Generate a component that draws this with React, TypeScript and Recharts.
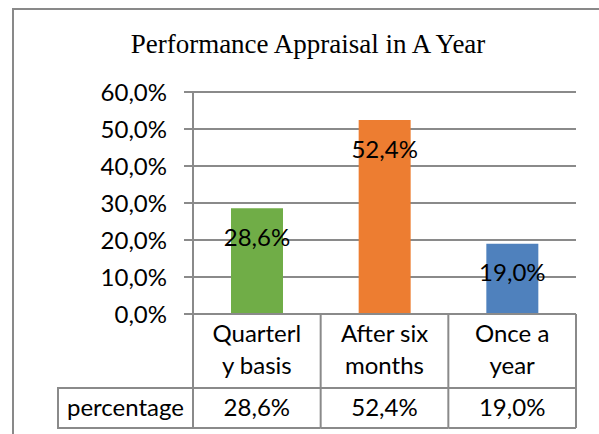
import React from 'react';
import { BarChart, Bar, XAxis, YAxis, CartesianGrid, Cell, LabelList } from 'recharts';

// values
const categories = ['Quarterly basis', 'After six months', 'Once a year'];
const categoryLines = [['Quarterl', 'y basis'], ['After six', 'months'], ['Once a', 'year']];
const percentages = [0.286, 0.524, 0.19];
const yTicks = [0, 0.1, 0.2, 0.3, 0.4, 0.5, 0.6];
const barColors = ['#70AD47', '#ED7D31', '#4F81BD'];
const seriesName = 'percentage';
const title = 'Performance Appraisal in A Year';

const data = categories.map((name, i) => ({ name, value: percentages[i] }));

const W = 599;
const H = 434;
const PLOT_LEFT = 193;
const PLOT_RIGHT = 23;
const PLOT_TOP = 92;
const AXIS_H = 120;
const cellW = (W - PLOT_LEFT - PLOT_RIGHT) / categories.length;

const lineColor = '#8a8a8a';
const font = 'Lato, "Noto Sans", sans-serif';
const fontSize = 24;

const fmt = (v: number) => (v * 100).toFixed(1).replace('.', ',') + '%';

const TableTick = (props: any) => {
  const { x, y, index } = props;
  const left = x - cellW / 2;
  const right = x + cellW / 2;
  const rowTop = y + 74;
  const bottom = y + 114;
  const lines = categoryLines[index];
  return (
    <g>
      {index === 0 && (
        <g>
          <line x1={left} y1={y} x2={left} y2={bottom} stroke={lineColor} strokeWidth={2} />
          <rect x={left - 135} y={rowTop} width={135} height={40} fill="none" stroke={lineColor} strokeWidth={2} />
          <text x={left - 67.5} y={rowTop + 28} textAnchor="middle" fontFamily={font} fontSize={fontSize} fill="#000">
            {seriesName}
          </text>
        </g>
      )}
      <line x1={right} y1={y} x2={right} y2={bottom} stroke={lineColor} strokeWidth={2} />
      <line x1={left} y1={rowTop} x2={right} y2={rowTop} stroke={lineColor} strokeWidth={2} />
      <line x1={left} y1={bottom} x2={right} y2={bottom} stroke={lineColor} strokeWidth={2} />
      {lines.map((t, i) => (
        <text key={i} x={x} y={y + 28 + i * 32} textAnchor="middle" fontFamily={font} fontSize={fontSize} fill="#000">
          {t}
        </text>
      ))}
      <text x={x} y={rowTop + 28} textAnchor="middle" fontFamily={font} fontSize={fontSize} fill="#000">
        {fmt(percentages[index])}
      </text>
    </g>
  );
};

const BarLabel = (props: any) => {
  const { x, y, width, value } = props;
  return (
    <text x={x + width / 2} y={y + 29} dy="0.35em" textAnchor="middle" fontFamily={font} fontSize={fontSize} fill="#000">
      {fmt(value)}
    </text>
  );
};

export default function App() {
  return (
    <div style={{ position: 'absolute', left: 0, top: 0, width: W, height: H, overflow: 'hidden', background: '#fff' }}>
      <div
        style={{
          position: 'absolute',
          left: 12,
          top: 8,
          width: 700,
          height: 600,
          border: '2px solid #898989',
          boxSizing: 'border-box',
        }}
      />
      <div
        style={{
          position: 'absolute',
          left: 0,
          top: 31,
          width: 616,
          textAlign: 'center',
          fontFamily: '"Liberation Serif", "Times New Roman", serif',
          fontSize: 27,
          lineHeight: '27px',
          color: '#000',
        }}
      >
        {title}
      </div>
      <div style={{ position: 'absolute', left: 0, top: 0 }}>
        <BarChart width={W} height={H} data={data} margin={{ top: PLOT_TOP, right: PLOT_RIGHT, bottom: 0, left: 0 }}>
          <CartesianGrid vertical={false} stroke={lineColor} strokeWidth={2} />
          <XAxis
            dataKey="name"
            height={AXIS_H}
            interval={0}
            tickLine={false}
            tickSize={0}
            tickMargin={0}
            axisLine={{ stroke: lineColor, strokeWidth: 2 }}
            tick={(p: any) => <TableTick {...p} />}
          />
          <YAxis
            width={PLOT_LEFT}
            domain={[0, 0.6]}
            ticks={yTicks}
            tickFormatter={fmt}
            tickSize={9}
            tickMargin={17}
            axisLine={{ stroke: lineColor, strokeWidth: 2 }}
            tickLine={{ stroke: lineColor, strokeWidth: 2 }}
            tick={{ fill: '#000', fontFamily: font, fontSize }}
          />
          <Bar dataKey="value" barSize={52} isAnimationActive={false}>
            {data.map((d, i) => (
              <Cell key={d.name} fill={barColors[i]} />
            ))}
            <LabelList dataKey="value" content={(p: any) => <BarLabel {...p} />} />
          </Bar>
        </BarChart>
      </div>
    </div>
  );
}
